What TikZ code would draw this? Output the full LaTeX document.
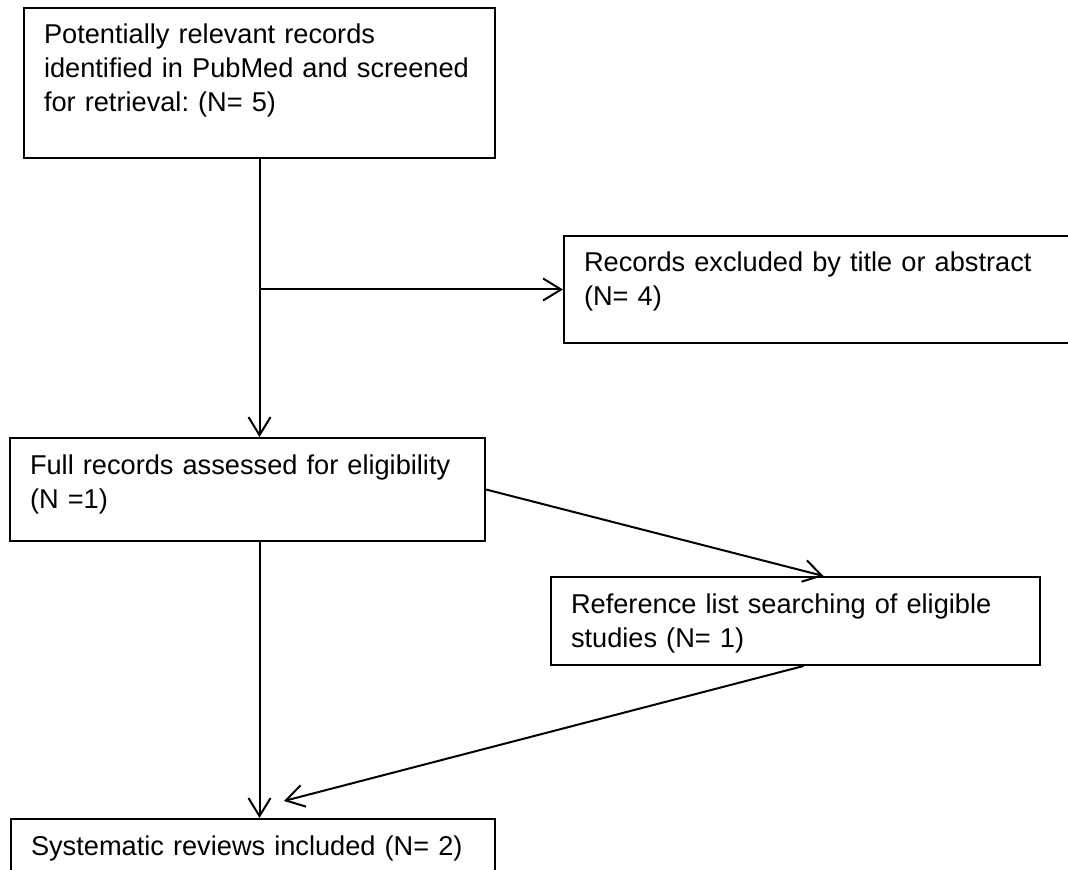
\documentclass[tikz,border=0pt]{standalone}
\usepackage{fontspec}
\setmainfont{Liberation Sans}
\usepackage{tikz}
\usetikzlibrary{arrows.meta, positioning}
\frenchspacing
\tikzstyle{record} = [rectangle, draw=black, line width=1pt, anchor=north west, align=left,
                      inner xsep=10pt, inner ysep=0pt, text height=18pt,
                      font=\fontsize{13.6pt}{17pt}\selectfont]
\tikzstyle{flow} = [line width=1pt, -{Straight Barb[length=9pt, width=11pt]}]

\begin{document}
\begin{tikzpicture}[x=0.5pt, y=-0.5pt]
				\useasboundingbox (0, 0) rectangle (1068, 870);
				\clip (0, 0) rectangle (1068, 870);

				\node (Search) [record, text width=215.5pt, text depth=57pt] at (23, 7) {Potentially relevant records\\identified in PubMed and screened\\for retrieval: (N= 5)};

				\node (Excluded) [record, text width=236pt, text depth=35.5pt] at (563, 235) {Records excluded by title or abstract\\(N= 4)};
				\coordinate (Branch) at (Search.south |- Excluded.west);
				\draw[flow] (Branch) -- (Excluded.west);

				\node (Full) [record, text width=217.5pt, text depth=33.5pt] at (9, 437) {Full records assessed for eligibility\\(N =1)};
				\draw[flow] (Search.south) -- (Search.south |- Full.north);

				\node (Reference) [record, text width=224.5pt, text depth=26pt] at (550, 576) {Reference list searching of eligible\\studies (N= 1)};
				\draw[flow] (Full.east) -- ([xshift=14pt]Reference.north);

				\node (Included) [record, text width=222pt, text depth=14pt] at (10, 818) {Systematic reviews included (N= 2)};
				\draw[flow] ([xshift=4pt]Reference.south) -- ([xshift=15.5pt, yshift=8.5pt]Included.north);
				\draw[flow] (Full.south -| Search.south) -- (Included.north -| Search.south);
			\end{tikzpicture}
\end{document}
